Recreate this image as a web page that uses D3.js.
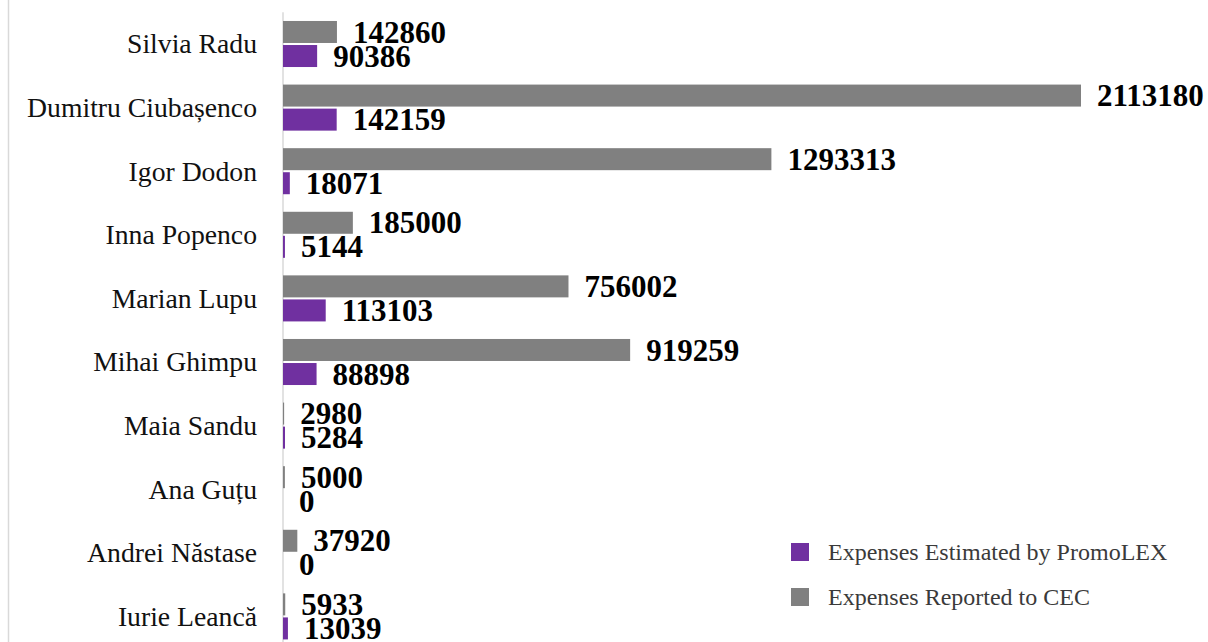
<!DOCTYPE html>
<html>
<head>
<meta charset="utf-8">
<script src="https://cdn.jsdelivr.net/npm/d3@7"></script>
<style>
  html, body { margin: 0; padding: 0; background: #ffffff; }
  svg { display: block; }
</style>
</head>
<body>
<svg id="chart" width="1208" height="642"></svg>
<script>
// Candidates, top to bottom
const candidates = [
  "Silvia Radu", "Dumitru Ciubașenco", "Igor Dodon", "Inna Popenco", "Marian Lupu",
  "Mihai Ghimpu", "Maia Sandu", "Ana Guțu", "Andrei Năstase", "Iurie Leancă"
];
// Expenses reported to the Central Electoral Commission (MDL)
const reportedToCEC = [142860, 2113180, 1293313, 185000, 756002, 919259, 2980, 5000, 37920, 5933];
// Expenses estimated by PromoLEX observers (MDL)
const estimatedByPromoLEX = [90386, 142159, 18071, 5144, 113103, 88898, 5284, 0, 0, 13039];

const seriesKeys = ["cec", "promolex"];
const seriesNames = {
  promolex: "Expenses Estimated by PromoLEX",
  cec: "Expenses Reported to CEC"
};
const seriesColors = { cec: "#808080", promolex: "#7030A0" };

const rows = candidates.map((name, i) => ({
  name,
  cec: reportedToCEC[i],
  promolex: estimatedByPromoLEX[i]
}));

const svg = d3.select("#chart");
const W = 1208, H = 642;
const plotLeft = 283, plotRight = 1081;
const rowStep = 63.6;
const plotTop = 12.2;

// Outer frame line on the left
svg.append("line")
  .attr("x1", 8.5).attr("x2", 8.5)
  .attr("y1", 0).attr("y2", H)
  .attr("stroke", "#d9d9d9").attr("stroke-width", 1.5);

const x = d3.scaleLinear()
  .domain([0, d3.max(reportedToCEC)])
  .range([plotLeft, plotRight]);

const y = d3.scaleBand()
  .domain(candidates)
  .range([plotTop, plotTop + rowStep * candidates.length])
  .padding(0);

const ySub = d3.scaleBand()
  .domain(seriesKeys)
  .range([0, y.bandwidth()])
  .paddingInner(0.085)
  .paddingOuter(0.365);

// Category axis line
svg.append("line")
  .attr("x1", plotLeft).attr("x2", plotLeft)
  .attr("y1", plotTop).attr("y2", H)
  .attr("stroke", "#d9d9d9").attr("stroke-width", 1.5);

// Category labels
svg.append("g")
  .selectAll("text")
  .data(rows)
  .join("text")
  .attr("x", 257)
  .attr("y", d => y(d.name) + y.bandwidth() / 2)
  .attr("dy", "0.34em")
  .attr("text-anchor", "end")
  .attr("font-family", "'Liberation Serif', serif")
  .attr("font-size", 27.7)
  .attr("fill", "#111111")
  .text(d => d.name);

const groups = svg.append("g")
  .selectAll("g")
  .data(rows)
  .join("g")
  .attr("transform", d => `translate(0,${y(d.name)})`);

const cells = groups.selectAll("g")
  .data(d => seriesKeys.map(k => ({ key: k, value: d[k] })))
  .join("g");

cells.append("rect")
  .attr("x", x(0))
  .attr("y", d => ySub(d.key))
  .attr("width", d => x(d.value) - x(0))
  .attr("height", ySub.bandwidth())
  .attr("fill", d => seriesColors[d.key]);

cells.append("text")
  .attr("x", d => x(d.value) + 16)
  .attr("y", d => ySub(d.key) + ySub.bandwidth() / 2)
  .attr("dy", "0.34em")
  .attr("font-family", "'Liberation Serif', serif")
  .attr("font-weight", "bold")
  .attr("font-size", 31)
  .attr("fill", "#000000")
  .text(d => d.value);

// Legend
const legendItems = ["promolex", "cec"];
const legend = svg.append("g")
  .selectAll("g")
  .data(legendItems)
  .join("g")
  .attr("transform", (d, i) => `translate(791,${552 + i * 45})`);

legend.append("rect")
  .attr("x", 0).attr("y", -9)
  .attr("width", 18).attr("height", 18)
  .attr("fill", d => seriesColors[d]);

legend.append("text")
  .attr("x", 37)
  .attr("y", 0)
  .attr("dy", "0.34em")
  .attr("font-family", "'Liberation Serif', serif")
  .attr("font-size", 24)
  .attr("fill", "#3a3a3a")
  .text(d => seriesNames[d]);
</script>
</body>
</html>
